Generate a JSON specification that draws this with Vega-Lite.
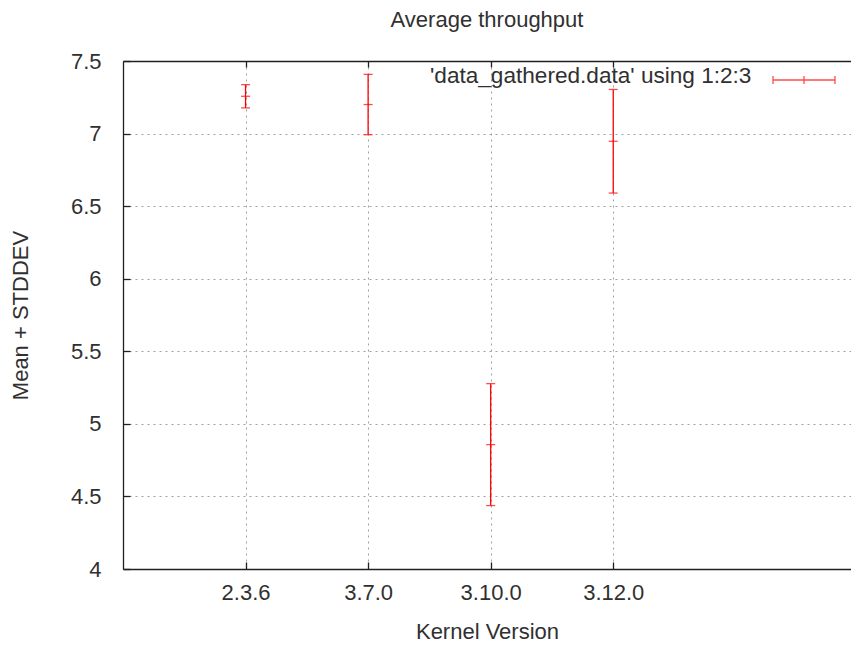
{
  "$schema": "https://vega.github.io/schema/vega-lite/v6.json",
  "width": 728,
  "height": 508,
  "autosize": "none",
  "padding": {"left": 123, "top": 61, "right": 0, "bottom": 78},
  "background": "white",
  "title": {"text": "Average throughput", "fontSize": 22, "font": "Liberation Sans", "fontWeight": "normal", "color": "#303030", "baseline": "alphabetic", "offset": -1, "frame": "group"},
  "data": {"values": [
    {"x": 1, "kernel": "2.3.6", "mean": 7.257, "stddev": 0.08},
    {"x": 2, "kernel": "3.7.0", "mean": 7.2, "stddev": 0.208},
    {"x": 3, "kernel": "3.10.0", "mean": 4.857, "stddev": 0.42},
    {"x": 4, "kernel": "3.12.0", "mean": 6.947, "stddev": 0.357}
  ]},
  "config": {
    "view": {"stroke": null},
    "font": "Liberation Sans",
    "axis": {
      "domainColor": "#202020",
      "domainWidth": 1.3,
      "tickColor": "#202020",
      "tickWidth": 1.3,
      "tickSize": -7,
      "gridColor": "#a0a0a0",
      "gridDash": [2, 4],
      "gridWidth": 1,
      "labelFont": "Liberation Sans",
      "labelFontSize": 22,
      "labelColor": "#303030",
      "labelOverlap": false,
      "labelFlush": false,
      "titleFont": "Liberation Sans",
      "titleFontSize": 22,
      "titleFontWeight": "normal",
      "titleColor": "#303030"
    }
  },
  "layer": [
    {
      "mark": {"type": "errorbar", "color": "#ff0000", "thickness": 1.3, "ticks": {"size": 9, "thickness": 1.3, "color": "#ff0000"}},
      "encoding": {
        "x": {"field": "x", "type": "quantitative", "scale": {"domain": [0, 5.94], "nice": false, "zero": false},
              "axis": {"orient": "bottom", "values": [1, 2, 3, 4], "labelExpr": "['','2.3.6','3.7.0','3.10.0','3.12.0'][datum.value]", "title": "Kernel Version", "grid": true, "labelPadding": 20, "titlePadding": 18}},
        "y": {"field": "mean", "type": "quantitative", "scale": {"domain": [4, 7.5], "nice": false, "zero": false},
              "axis": {"values": [4, 4.5, 5, 5.5, 6, 6.5, 7, 7.5], "format": "~g", "title": "Mean + STDDEV", "grid": true, "labelPadding": 29, "titlePadding": 38}},
        "yError": {"field": "stddev"}
      }
    },
    {
      "mark": {"type": "tick", "orient": "horizontal", "size": 9, "thickness": 1.3},
      "encoding": {
        "x": {"field": "x", "type": "quantitative", "axis": {"orient": "top", "values": [1, 2, 3, 4], "labels": false, "title": null, "grid": false, "tickSize": -6}},
        "y": {"field": "mean", "type": "quantitative"},
        "color": {"datum": "data", "scale": {"range": ["#ff0000"]},
          "legend": {"orient": "none", "legendX": 307, "legendY": -13, "title": "'data_gathered.data' using 1:2:3", "titleOrient": "left", "titleBaseline": "line-top", "titleLineHeight": 18, "titleLimit": 0, "titleFontSize": 22.6, "titleFont": "Liberation Sans", "titleFontWeight": "normal", "titleColor": "#303030", "titlePadding": 20, "labelExpr": "''", "symbolType": "M-1,0H1M-1,-0.13V0.13M1,-0.13V0.13M0,-0.13V0.13", "symbolSize": 3844, "symbolStrokeColor": "#ff0000", "symbolFillColor": "transparent", "symbolStrokeWidth": 1.3, "labelOffset": 0}}
      }
    }
  ],
  "resolve": {"axis": {"x": "independent"}}
}
